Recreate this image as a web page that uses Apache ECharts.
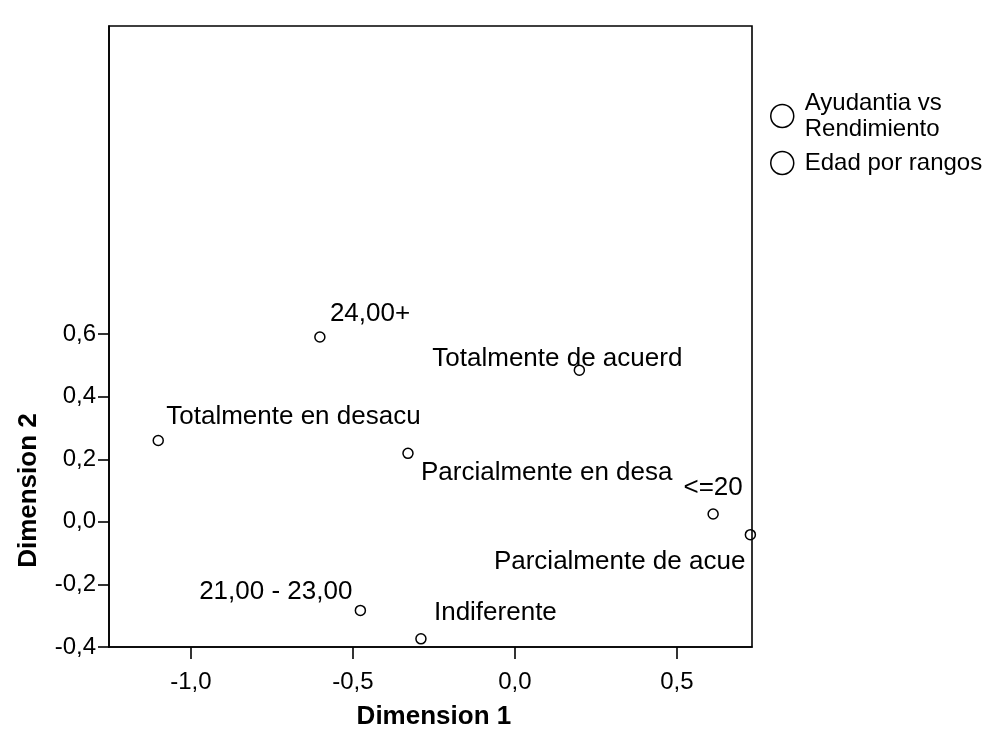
<!DOCTYPE html>
<html>
<head>
<meta charset="utf-8">
<script src="https://cdn.jsdelivr.net/npm/echarts@6/dist/echarts.min.js"></script>
<style>
html,body{margin:0;padding:0;background:#fff;}
#chart{width:1001px;height:731px;}
</style>
</head>
<body>
<div id="chart"></div>
<script>
// ---- data ----
const seriesNames = ['Ayudantia vs Rendimiento', 'Edad por rangos'];
const ayudNames = ['Totalmente de acuerd', 'Totalmente en desacu', 'Parcialmente en desa', 'Parcialmente de acue', 'Indiferente'];
const ayudX = [0.199, -1.101, -0.330, 0.727, -0.290];
const ayudY = [0.485, 0.260, 0.219, -0.041, -0.374];
const edadNames = ['24,00+', '<=20', '21,00 - 23,00'];
const edadX = [-0.602, 0.612, -0.477];
const edadY = [0.591, 0.025, -0.283];
const xTicks = [-1.0, -0.5, 0.0, 0.5];
const yTicks = [-0.4, -0.2, 0.0, 0.2, 0.4, 0.6];
const xTitle = 'Dimension 1';
const yTitle = 'Dimension 2';

// ---- layout / style ----
const xMin = -1.253, xMax = 0.732, yMin = -0.4, yMax = 1.585;
const FONT = "'Liberation Sans', Arial, sans-serif";
const labelPlace = {
  'Totalmente de acuerd': {align: 'center', dx: -22, dy: -11},
  'Totalmente en desacu': {align: 'left', dx: 8, dy: -24},
  'Parcialmente en desa': {align: 'left', dx: 13, dy: 19},
  'Parcialmente de acue': {align: 'right', dx: -5, dy: 27},
  'Indiferente': {align: 'left', dx: 13, dy: -26},
  '24,00+': {align: 'left', dx: 10, dy: -23},
  '<=20': {align: 'center', dx: 0, dy: -26},
  '21,00 - 23,00': {align: 'right', dx: -8, dy: -19}
};
const labelStyle = {
  show: true, position: 'inside', formatter: '{b}', verticalAlign: 'middle',
  color: '#000', fontSize: 26, fontFamily: FONT, textBorderWidth: 0
};
function build(names, xs, ys) {
  return names.map((n, i) => {
    const p = labelPlace[n];
    return {
      name: n,
      value: [xs[i], ys[i]],
      label: Object.assign({}, labelStyle, {align: p.align, offset: [p.dx, p.dy]})
    };
  });
}
const fmt = v => v.toFixed(1).replace('.', ',');
const commonSeries = {
  type: 'scatter',
  symbol: 'circle',
  symbolSize: 10,
  itemStyle: {color: 'rgba(255,255,255,0)', borderColor: '#000', borderWidth: 1.5, opacity: 1},
  emphasis: {disabled: true},
  label: labelStyle
};

const chart = echarts.init(document.getElementById('chart'));
chart.setOption({
  backgroundColor: '#fff',
  animation: false,
  grid: {
    left: 109, top: 26, width: 643, height: 621,
    show: true, borderColor: '#000', borderWidth: 1.6, backgroundColor: 'transparent'
  },
  legend: {
    orient: 'vertical', left: 765, top: 85,
    icon: 'circle', itemWidth: 35, itemHeight: 23, itemGap: 8,
    itemStyle: {color: '#fff', borderColor: '#000', borderWidth: 1.5},
    formatter: n => n === 'Ayudantia vs Rendimiento' ? 'Ayudantia vs\nRendimiento' : n,
    textStyle: {fontSize: 24, lineHeight: 26, color: '#000', fontFamily: FONT},
    selectedMode: false,
    data: seriesNames
  },
  xAxis: {
    type: 'value', min: xMin, max: xMax,
    axisLine: {show: true, onZero: false, lineStyle: {color: '#000', width: 1.6}},
    axisTick: {show: true, customValues: xTicks, length: 12, lineStyle: {color: '#000', width: 1.6}},
    axisLabel: {customValues: xTicks, formatter: fmt, fontSize: 24, margin: 23, color: '#000', fontFamily: FONT},
    splitLine: {show: false}
  },
  yAxis: {
    type: 'value', min: yMin, max: yMax,
    axisLine: {show: true, onZero: false, lineStyle: {color: '#000', width: 1.6}},
    axisTick: {show: true, customValues: yTicks, length: 11, lineStyle: {color: '#000', width: 1.6}},
    axisLabel: {customValues: yTicks, formatter: fmt, fontSize: 24, margin: 13, color: '#000', fontFamily: FONT},
    splitLine: {show: false}
  },
  series: [
    Object.assign({}, commonSeries, {name: seriesNames[0], data: build(ayudNames, ayudX, ayudY)}),
    Object.assign({}, commonSeries, {name: seriesNames[1], data: build(edadNames, edadX, edadY)})
  ]
});

// axis titles centred on tick ranges (as in the SPSS original)
const xc = chart.convertToPixel({gridIndex: 0}, [(xTicks[0] + xTicks[xTicks.length - 1]) / 2, yMin]);
const yc = chart.convertToPixel({gridIndex: 0}, [xMin, (yTicks[0] + yTicks[yTicks.length - 1]) / 2]);
chart.setOption({
  graphic: [
    {type: 'text', x: xc[0], y: xc[1] + 70, style: {text: xTitle, font: "bold 26px " + FONT, fill: '#000', align: 'center', verticalAlign: 'middle'}},
    {type: 'text', x: yc[0] - 80, y: yc[1], rotation: Math.PI / 2, style: {text: yTitle, font: "bold 26px " + FONT, fill: '#000', align: 'center', verticalAlign: 'middle'}}
  ]
});
</script>
</body>
</html>
